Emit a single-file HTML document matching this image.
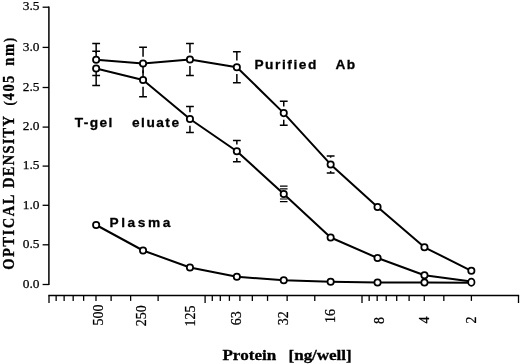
<!DOCTYPE html>
<html><head><meta charset="utf-8"><title>Figure</title>
<style>html,body{margin:0;padding:0;background:#fff}svg{display:block}.s{font-family:"Liberation Serif",serif;fill:#000;stroke:#000;stroke-width:0.25px}.sb{font-family:"Liberation Serif",serif;font-weight:bold;fill:#000;stroke:#000;stroke-width:0.3px}.h{font-family:"Liberation Sans",sans-serif;font-weight:bold;fill:#000}</style></head><body>
<svg width="520" height="364" viewBox="0 0 520 364">
<rect width="520" height="364" fill="#fff"/>
<g stroke="#000" fill="none" stroke-linecap="butt">
<path d="M48.9 6.6000000000000005 V285.1" stroke-width="1.5"/>
<path d="M42.6 7.20 H49" stroke-width="1.3"/>
<path d="M42.6 47.40 H49" stroke-width="1.3"/>
<path d="M42.6 87.50 H49" stroke-width="1.3"/>
<path d="M42.6 127.10 H49" stroke-width="1.3"/>
<path d="M42.6 166.10 H49" stroke-width="1.3"/>
<path d="M42.6 205.30 H49" stroke-width="1.3"/>
<path d="M42.6 244.80 H49" stroke-width="1.3"/>
<path d="M42.6 284.50 H49" stroke-width="1.3"/>
<path d="M48.3 295.6 H519.15" stroke-width="1.5"/>
<path d="M49.00 295.6 V303.0" stroke-width="1.3"/>
<path d="M56.14 295.6 V300.9" stroke-width="1.3"/>
<path d="M64.13 295.6 V300.9" stroke-width="1.3"/>
<path d="M73.18 295.6 V300.9" stroke-width="1.3"/>
<path d="M83.63 295.6 V300.9" stroke-width="1.3"/>
<path d="M95.99 295.6 V300.9" stroke-width="1.3"/>
<path d="M111.12 295.6 V300.9" stroke-width="1.3"/>
<path d="M130.62 295.6 V300.9" stroke-width="1.3"/>
<path d="M158.11 295.6 V300.9" stroke-width="1.3"/>
<path d="M205.10 295.6 V303.0" stroke-width="1.3"/>
<path d="M212.28 295.6 V300.9" stroke-width="1.3"/>
<path d="M220.31 295.6 V300.9" stroke-width="1.3"/>
<path d="M229.40 295.6 V300.9" stroke-width="1.3"/>
<path d="M239.91 295.6 V300.9" stroke-width="1.3"/>
<path d="M252.33 295.6 V300.9" stroke-width="1.3"/>
<path d="M267.54 295.6 V300.9" stroke-width="1.3"/>
<path d="M287.14 295.6 V300.9" stroke-width="1.3"/>
<path d="M314.77 295.6 V300.9" stroke-width="1.3"/>
<path d="M362.00 295.6 V303.0" stroke-width="1.3"/>
<path d="M369.16 295.6 V300.9" stroke-width="1.3"/>
<path d="M377.17 295.6 V300.9" stroke-width="1.3"/>
<path d="M386.24 295.6 V300.9" stroke-width="1.3"/>
<path d="M396.72 295.6 V300.9" stroke-width="1.3"/>
<path d="M409.11 295.6 V300.9" stroke-width="1.3"/>
<path d="M424.28 295.6 V300.9" stroke-width="1.3"/>
<path d="M443.83 295.6 V300.9" stroke-width="1.3"/>
<path d="M471.39 295.6 V300.9" stroke-width="1.3"/>
<path d="M518.50 295.6 V303.0" stroke-width="1.3"/>
</g>
<g stroke="#000" stroke-width="1.5" fill="none">
<path d="M92.25 43.60 H100.05 M92.25 75.50 H100.05"/>
<path d="M96.15 43.60 V53.00"/>
<path d="M96.15 66.40 V75.50"/>
<path d="M139.15 47.30 H146.95 M139.15 79.50 H146.95"/>
<path d="M143.05 47.30 V56.80"/>
<path d="M143.05 70.20 V79.50"/>
<path d="M186.05 43.60 H193.85 M186.05 75.50 H193.85"/>
<path d="M189.95 43.60 V52.70"/>
<path d="M189.95 66.10 V75.50"/>
<path d="M232.95 51.80 H240.75 M232.95 82.80 H240.75"/>
<path d="M236.85 51.80 V60.50"/>
<path d="M236.85 73.90 V82.80"/>
<path d="M279.85 101.20 H287.65 M279.85 125.30 H287.65"/>
<path d="M283.75 101.20 V106.40"/>
<path d="M283.75 119.80 V125.30"/>
<path d="M326.75 156.10 H334.55 M326.75 172.90 H334.55"/>
<path d="M330.65 156.10 V157.70"/>
<path d="M330.65 171.10 V172.90"/>
<path d="M92.25 51.20 H100.05 M92.25 85.50 H100.05"/>
<path d="M96.15 51.20 V61.80"/>
<path d="M96.15 75.20 V85.50"/>
<path d="M139.15 64.00 H146.95 M139.15 96.70 H146.95"/>
<path d="M143.05 64.00 V73.30"/>
<path d="M143.05 86.70 V96.70"/>
<path d="M186.05 106.40 H193.85 M186.05 132.60 H193.85"/>
<path d="M189.95 106.40 V112.30"/>
<path d="M189.95 125.70 V132.60"/>
<path d="M232.95 140.40 H240.75 M232.95 161.70 H240.75"/>
<path d="M236.85 140.40 V144.60"/>
<path d="M236.85 158.00 V161.70"/>
<path d="M279.95 186.2 H287.55 M279.95 188.9 H287.55 M279.95 199.0 H287.55 M279.95 201.7 H287.55" stroke-width="1.2"/>
</g>
<g stroke="#000" stroke-width="2.0" fill="none" stroke-linejoin="round">
<polyline points="96.15,59.70 143.05,63.50 189.95,59.40 236.85,67.20 283.75,113.10 330.65,164.40 377.55,207.00 424.45,247.30 471.35,270.80"/>
<polyline points="96.15,68.50 143.05,80.00 189.95,119.00 236.85,151.30 283.75,193.90 330.65,237.50 377.55,258.00 424.45,275.20 471.35,281.50"/>
<polyline points="96.15,225.00 143.05,250.50 189.95,267.50 236.85,276.70 283.75,280.20 330.65,281.80 377.55,282.40 424.45,282.50 471.35,282.80"/>
</g>
<g stroke="#000" stroke-width="1.75" fill="#fff">
<circle cx="96.15" cy="225.00" r="3.15"/>
<circle cx="143.05" cy="250.50" r="3.15"/>
<circle cx="189.95" cy="267.50" r="3.15"/>
<circle cx="236.85" cy="276.70" r="3.15"/>
<circle cx="283.75" cy="280.20" r="3.15"/>
<circle cx="330.65" cy="281.80" r="3.15"/>
<circle cx="377.55" cy="282.40" r="3.15"/>
<circle cx="424.45" cy="282.50" r="3.15"/>
<ellipse cx="471.35" cy="282.15" rx="3.15" ry="3.6"/>
<circle cx="96.15" cy="68.50" r="3.15"/>
<circle cx="143.05" cy="80.00" r="3.15"/>
<circle cx="189.95" cy="119.00" r="3.15"/>
<circle cx="236.85" cy="151.30" r="3.15"/>
<circle cx="283.75" cy="193.90" r="3.15"/>
<circle cx="330.65" cy="237.50" r="3.15"/>
<circle cx="377.55" cy="258.00" r="3.15"/>
<circle cx="424.45" cy="275.20" r="3.15"/>
<circle cx="96.15" cy="59.70" r="3.15"/>
<circle cx="143.05" cy="63.50" r="3.15"/>
<circle cx="189.95" cy="59.40" r="3.15"/>
<circle cx="236.85" cy="67.20" r="3.15"/>
<circle cx="283.75" cy="113.10" r="3.15"/>
<circle cx="330.65" cy="164.40" r="3.15"/>
<circle cx="377.55" cy="207.00" r="3.15"/>
<circle cx="424.45" cy="247.30" r="3.15"/>
<circle cx="471.35" cy="270.80" r="3.15"/>
</g>
<text class="s" font-size="13.4" x="39.5" y="10.40" text-anchor="end">3.5</text>
<text class="s" font-size="13.4" x="39.5" y="50.60" text-anchor="end">3.0</text>
<text class="s" font-size="13.4" x="39.5" y="90.70" text-anchor="end">2.5</text>
<text class="s" font-size="13.4" x="39.5" y="130.30" text-anchor="end">2.0</text>
<text class="s" font-size="13.4" x="39.5" y="169.30" text-anchor="end">1.5</text>
<text class="s" font-size="13.4" x="39.5" y="208.50" text-anchor="end">1.0</text>
<text class="s" font-size="13.4" x="39.5" y="248.00" text-anchor="end">0.5</text>
<text class="s" font-size="13.4" x="39.5" y="287.70" text-anchor="end">0.0</text>
<text class="s" font-size="14" transform="translate(102.8 325.6) rotate(-90)">500</text>
<text class="s" font-size="14" transform="translate(146.2 326.2) rotate(-90)">250</text>
<text class="s" font-size="14" transform="translate(195.1 326.4) rotate(-90)">125</text>
<text class="s" font-size="14" transform="translate(240.5 325.3) rotate(-90)">63</text>
<text class="s" font-size="14" transform="translate(288.2 325.3) rotate(-90)">32</text>
<text class="s" font-size="14" transform="translate(335.2 322.9) rotate(-90)">16</text>
<text class="s" font-size="14" transform="translate(383.5 323.9) rotate(-90)">8</text>
<text class="s" font-size="14" transform="translate(429.4 323.5) rotate(-90)">4</text>
<text class="s" font-size="14" transform="translate(475.5 323.5) rotate(-90)">2</text>
<text class="sb" font-size="14.5" transform="translate(13.9 269.8) rotate(-90) scale(1 1.14)" textLength="75.2" lengthAdjust="spacing">OPTICAL</text>
<text class="sb" font-size="14.5" transform="translate(13.9 187.9) rotate(-90) scale(1 1.14)" textLength="71.9" lengthAdjust="spacing">DENSITY</text>
<text class="sb" font-size="14.5" transform="translate(13.9 105.6) rotate(-90) scale(1 1.14)" textLength="29.8" lengthAdjust="spacing"><tspan font-size="12.5">(</tspan>405</text>
<text class="sb" font-size="14.5" transform="translate(13.9 65.8) rotate(-90) scale(1 1.14)" textLength="28.0" lengthAdjust="spacing">nm<tspan font-size="12.5">)</tspan></text>
<text class="sb" font-size="15" transform="translate(222.4 360.2) scale(1.14 1)" textLength="47.37" lengthAdjust="spacing">Protein</text>
<text class="sb" font-size="15" transform="translate(288.6 360.2) scale(1.14 1)" textLength="55.26" lengthAdjust="spacing">[ng/well]</text>
<text class="h" font-size="13.7" transform="translate(254.4 69.2) scale(1.0 1)" textLength="62.00" lengthAdjust="spacing" stroke="#000" stroke-width="0.3">Purified</text>
<text class="h" font-size="13.7" transform="translate(335.6 69.2) scale(1.0 1)" textLength="19.60" lengthAdjust="spacing" stroke="#000" stroke-width="0.3">Ab</text>
<text class="h" font-size="13.7" transform="translate(74.8 127) scale(1.0 1)" textLength="37.40" lengthAdjust="spacing" stroke="#000" stroke-width="0.3">T-gel</text>
<text class="h" font-size="13.7" transform="translate(132 127) scale(1.0 1)" textLength="47.00" lengthAdjust="spacing" stroke="#000" stroke-width="0.3">eluate</text>
<text class="h" font-size="13.7" transform="translate(109.4 226.6) scale(1.0 1)" textLength="61.00" lengthAdjust="spacing" stroke="#000" stroke-width="0.3">Plasma</text>
</svg></body></html>
